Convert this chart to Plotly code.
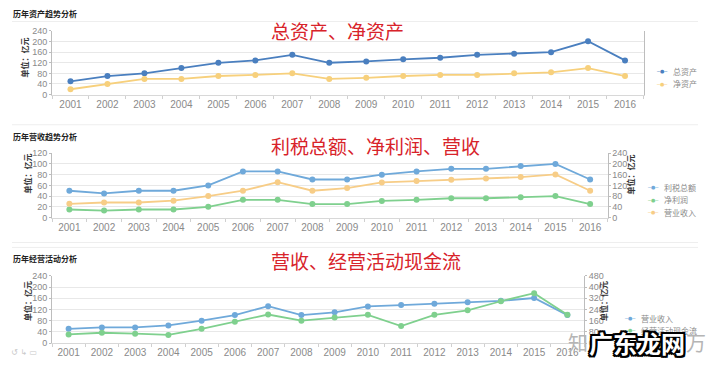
import plotly.graph_objects as go

years = [str(y) for y in range(2001, 2017)]
# Panel 1: 总资产 / 净资产 (亿元)
total_assets = [50, 70, 80, 100, 120, 129, 150, 120, 125, 133, 139, 150, 154, 160, 201, 129]
net_assets = [20, 40, 59, 59, 70, 74, 80, 59, 63, 70, 74, 74, 80, 84, 100, 70]
# Panel 2: 利税总额 / 净利润 (left), 营业收入 (right)
profit_tax = [50, 45, 50, 50, 60, 86, 86, 71, 71, 80, 86, 91, 91, 96, 100, 71]
net_profit = [15, 13, 15, 15, 20, 33, 33, 25, 25, 31, 33, 36, 36, 38, 40, 25]
revenue = [51, 56, 56, 63, 80, 100, 132, 100, 110, 131, 136, 141, 146, 151, 161, 100]
# Panel 3: 营业收入 (left), 经营活动现金流 (right)
op_cash_flow = [62, 74, 67, 58, 102, 153, 204, 160, 183, 202, 122, 202, 234, 299, 357, 202]

W, H = 720, 377
NUM = "Liberation Sans, Noto Sans CJK SC, sans-serif"
CJK = "Noto Sans CJK SC, sans-serif"

C_BLUE1 = "#4a7fbf"
C_YEL = "#f7d07c"
C_BLUE2 = "#6fa9da"
C_GREEN = "#7fd08e"
C_YEL2 = "#f7cd87"


def px_x(v):
    return v / W


def px_y(v):
    return (H - v) / H


fig = go.Figure()


def add(y, name, color, xa, ya):
    fig.add_trace(go.Scatter(
        x=years, y=y, name=name, mode="lines+markers",
        line=dict(color=color, width=1.8),
        marker=dict(color=color, size=6),
        xaxis=xa, yaxis=ya, showlegend=False,
    ))


add(total_assets, "总资产", C_BLUE1, "x", "y")
add(net_assets, "净资产", C_YEL, "x", "y")
add(profit_tax, "利税总额", C_BLUE2, "x2", "y2")
add(net_profit, "净利润", C_GREEN, "x2", "y2")
add(revenue, "营业收入", C_YEL2, "x2", "y3")
add(revenue, "营业收入", C_BLUE2, "x3", "y4")
add(op_cash_flow, "经营活动现金流", C_GREEN, "x3", "y5")

xcommon = dict(type="category", range=[-0.5, 15.5], showgrid=False,
               showline=True, linecolor="#d8d8d8", ticks="outside",
               tickson="boundaries", ticklen=3, tickcolor="#d0d0d0",
               tickfont=dict(family=NUM, size=10, color="#8a8a8a"))
ycommon = dict(showgrid=True, gridcolor="#e8e8e8", showline=True,
               linecolor="#bdbdbd", zeroline=False, ticks="outside",
               ticklen=2, tickcolor="#bdbdbd",
               tickfont=dict(family=NUM, size=9, color="#8a8a8a"))

d1x = [px_x(52), px_x(643.5)]
d2x = [px_x(52), px_x(607.5)]
d3x = [px_x(52), px_x(584)]

fig.update_layout(
    width=W, height=H, margin=dict(l=0, r=0, t=0, b=0),
    paper_bgcolor="white", plot_bgcolor="white",
    font=dict(family=CJK, color="#555"),
    xaxis=dict(domain=d1x, anchor="y", **xcommon),
    yaxis=dict(domain=[px_y(92), px_y(26.7)], anchor="x", range=[0, 240],
               dtick=40, mirror=True, **ycommon),
    xaxis2=dict(domain=d2x, anchor="y2", **xcommon),
    yaxis2=dict(domain=[px_y(218.3), px_y(152.3)], anchor="x2", range=[0, 120],
                dtick=20, **ycommon),
    yaxis3=dict(overlaying="y2", anchor="x2", side="right", range=[0, 240],
                dtick=40, **{**ycommon, "showgrid": False}),
    xaxis3=dict(domain=d3x, anchor="y4", **xcommon),
    yaxis4=dict(domain=[px_y(347.3), px_y(278.3)], anchor="x3", range=[0, 240],
                dtick=40, **ycommon),
    yaxis5=dict(overlaying="y4", anchor="x3", side="right", range=[0, 480],
                dtick=80, **{**ycommon, "showgrid": False}),
)

ann = []
# panel titles
for txt, yy in [("历年资产趋势分析", 9), ("历年营收趋势分析", 134.7), ("历年经营活动分析", 260)]:
    ann.append(dict(text=txt, x=px_x(11), y=px_y(yy), xref="paper", yref="paper",
                    xanchor="left", yanchor="middle", showarrow=False,
                    font=dict(family=CJK, size=8, color="#222", weight="bold")))
# red headings
for txt, yy in [("总资产、净资产", 26.5), ("利税总额、净利润、营收", 144), ("营收、经营活动现金流", 262)]:
    ann.append(dict(text=txt, x=px_x(269), y=px_y(yy), xref="paper", yref="paper",
                    xanchor="left", yanchor="middle", showarrow=False,
                    font=dict(family=CJK, size=19, color="#d8232a")))
# axis unit labels
for xx, yy in [(25, 54), (27, 173), (28, 304), (630, 174), (604, 304)]:
    ann.append(dict(text="单位：亿元", x=px_x(xx), y=px_y(yy), xref="paper", yref="paper",
                    xanchor="center", yanchor="middle", showarrow=False, textangle=-90,
                    font=dict(family=CJK, size=8, color="#333", weight="bold")))

# legends (symbol + label as text)
legend_items = [
    (662, 68, C_BLUE1, "总资产"), (662, 81, C_YEL, "净资产"),
    (653, 187, C_BLUE2, "利税总额"), (653, 200, C_GREEN, "净利润"), (653, 213, C_YEL2, "营业收入"),
    (630, 322, C_BLUE2, "营业收入"), (630, 334, C_GREEN, "经营活动现金流"),
]
for sx, sy, col, name in legend_items:
    ann.append(dict(text="─●─", x=px_x(sx), y=px_y(sy), xref="paper", yref="paper",
                    xanchor="center", yanchor="middle", showarrow=False,
                    font=dict(family="DejaVu Sans", size=5, color=col)))
    ann.append(dict(text=name, x=px_x(sx + 9), y=px_y(sy), xref="paper", yref="paper",
                    xanchor="left", yanchor="middle", showarrow=False,
                    font=dict(family=CJK, size=8, color="#8a8a8a")))

# toolbar icons
ann.append(dict(text="↺ ↳ ▭", x=px_x(9), y=px_y(357), xref="paper", yref="paper",
                xanchor="left", yanchor="middle", showarrow=False,
                font=dict(family="DejaVu Sans", size=8, color="#c8c8c8")))
# watermark
ann.append(dict(text="知", x=px_x(566), y=px_y(347), xref="paper", yref="paper",
                xanchor="left", yanchor="middle", showarrow=False,
                font=dict(family=CJK, size=20, color="#b5b5b5")))
ann.append(dict(text="万", x=px_x(684), y=px_y(347), xref="paper", yref="paper",
                xanchor="left", yanchor="middle", showarrow=False,
                font=dict(family=CJK, size=20, color="#b5b5b5")))
ann.append(dict(text="广东龙网", x=px_x(587), y=px_y(347), xref="paper", yref="paper",
                xanchor="left", yanchor="middle", showarrow=False,
                font=dict(family=CJK, size=24, color="white", weight="bold",
                          shadow="-2px -2px 0 #000, 2px -2px 0 #000, -2px 2px 0 #000, 2px 2px 0 #000, 0 2px 0 #000, 2px 0 0 #000, 0 -2px 0 #000, -2px 0 0 #000")))
fig.update_layout(annotations=ann)

shapes = []
for yy in [17, 123, 244, 249]:
    shapes.append(dict(type="line", xref="paper", yref="paper", x0=px_x(12), x1=px_x(698),
                       y0=px_y(yy), y1=px_y(yy), line=dict(color="#eeeeee", width=1), layer="below"))
fig.update_layout(shapes=shapes)

fig.write_html("out.html", config={"displayModeBar": False},
               post_script="document.body.style.margin='0';document.body.style.overflow='hidden';")
